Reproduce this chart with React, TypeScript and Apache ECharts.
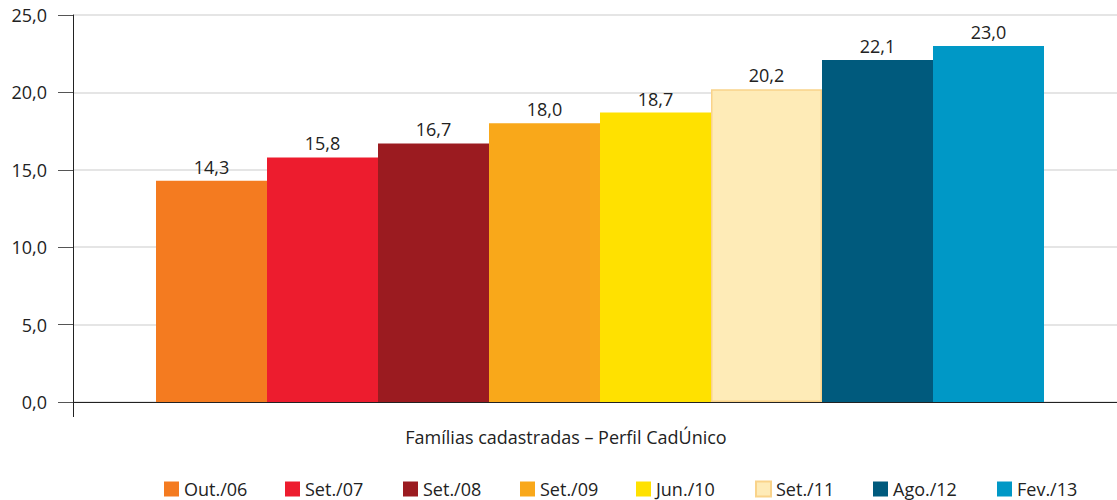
import React, { useEffect, useRef } from "react";
import * as echarts from "echarts";

const category = ["Famílias cadastradas – Perfil CadÚnico"];
const periods = ["Out./06", "Set./07", "Set./08", "Set./09", "Jun./10", "Set./11", "Ago./12", "Fev./13"];
const values = [14.3, 15.8, 16.7, 18.0, 18.7, 20.2, 22.1, 23.0];
const colors = ["#F47B20", "#ED1C2E", "#9B1B20", "#F9A81A", "#FFE100", "#FEEBB7", "#005A7D", "#0098C6"];
const borders = ["", "", "", "", "", "#F9D38A", "", ""];
const legendLeft = [164, 285, 403, 520, 636, 755, 873, 997];

const FONT = "Open Sans";
const FS = 18;
const fmt = (v: number) => v.toFixed(1).replace(".", ",");

export default function App() {
  const ref = useRef<HTMLDivElement>(null);
  useEffect(() => {
    if (!ref.current) return;
    const chart = echarts.init(ref.current, undefined, { renderer: "svg" });
    chart.setOption({
      animation: false,
      backgroundColor: "#ffffff",
      textStyle: { fontFamily: FONT },
      grid: {
        left: 73,
        right: -10,
        top: 15,
        bottom: 98,
        containLabel: false,
        outerBoundsMode: "none",
      },
      legend: periods.map((p, i) => ({
        data: [p],
        left: legendLeft[i],
        top: 480,
        padding: 0,
        itemWidth: 15,
        itemHeight: 15,
        icon: "rect",
        textStyle: { fontSize: FS, lineHeight: 18, color: "#222", fontFamily: FONT },
        selectedMode: false,
      })),
      xAxis: {
        type: "category",
        data: category,
        axisLine: { lineStyle: { color: "#222", width: 1 } },
        axisTick: { show: true, length: 15, lineStyle: { color: "#222" } },
        axisLabel: {
          margin: 26,
          fontSize: FS,
          color: "#222",
          fontFamily: FONT,
          padding: [0, 68, 0, 0],
        },
      },
      yAxis: {
        type: "value",
        min: 0,
        max: 25,
        interval: 5,
        axisLine: { show: true, lineStyle: { color: "#222", width: 1 } },
        axisTick: { show: true, length: 15, lineStyle: { color: "#555" } },
        axisLabel: {
          margin: 26,
          fontSize: FS,
          color: "#222",
          fontFamily: FONT,
          formatter: (v: number) => fmt(v),
        },
        splitLine: { show: true, lineStyle: { color: "#dcdcdc", width: 1.5 } },
      },
      series: periods.map((p, i) => ({
        name: p,
        type: "bar",
        data: [values[i]],
        barWidth: 111,
        barGap: "0%",
        itemStyle: {
          color: colors[i],
          borderColor: borders[i] || colors[i],
          borderWidth: borders[i] ? 1.5 : 0,
        },
        label: {
          show: true,
          position: "top",
          distance: 5,
          fontSize: FS,
          color: "#222",
          fontFamily: FONT,
          formatter: (prm: any) => fmt(prm.value),
        },
      })),
    });
    return () => chart.dispose();
  }, []);
  return (
    <div
      ref={ref}
      style={{ position: "absolute", left: 0, top: 0, width: 1117, height: 500 }}
    />
  );
}
